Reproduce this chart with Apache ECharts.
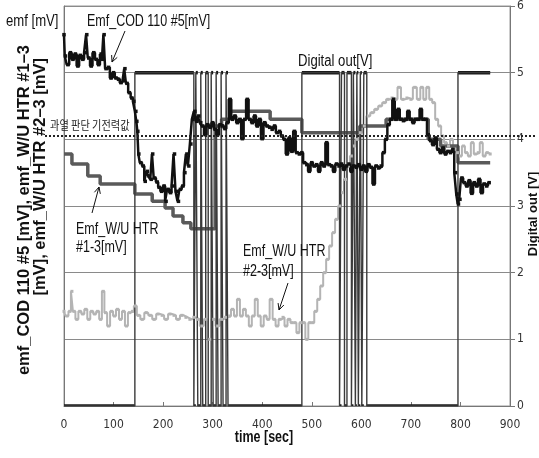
<!DOCTYPE html>
<html>
<head>
<meta charset="utf-8">
<script src="https://cdn.jsdelivr.net/npm/echarts@6/dist/echarts.min.js"></script>
<style>
  html, body { margin: 0; padding: 0; background: #fff; }
  #chart { width: 539px; height: 458px; }
</style>
</head>
<body>
<div id="chart"></div>
<script>
// time [sec] axis and digital out [V] axis
const timeMax = 900
const timeStep = 100
const voltMax = 6
const voltStep = 1

// 과열 판단 기전력값 (threshold, read on the right axis)
const threshold = 4.05

// Digital out [V] : [time, value], value holds until the next point
const digitalOut = [
  [0, 0], [143, 5], [262, 0], [266, 5], [270, 0], [276, 5], [280, 0], [286, 5],
  [291, 0], [297, 5], [301, 0], [307, 5], [311, 0], [317, 5], [321, 0], [327, 5],
  [331, 0], [480, 5], [556, 0], [560, 5], [566, 0], [571, 5], [580, 0], [584, 5],
  [588, 0], [591, 5], [594, 0], [598, 5], [601, 0], [605, 5], [611, 0], [795, 5],
  [860, 5]
]

// Emf_COD 110 #5 [mV]
const codEmf = [
  [0, 5.57], [3, 5.25], [8, 5.12], [13, 5.3], [18, 5.2], [23, 5.28], [28, 5.1], [33, 5.26],
  [38, 5.2], [43, 5.3], [46, 5.57], [50, 5.22], [55, 5.1], [60, 5.3], [65, 5.2], [70, 5.12],
  [75, 5.28], [78, 5.2], [81, 5.57], [85, 5.06], [90, 5.08], [95, 4.92], [100, 5.0], [105, 4.92],
  [110, 4.9], [115, 4.85], [120, 4.88], [123, 5.06], [127, 4.84], [132, 4.7], [137, 4.62], [141, 4.57],
  [145, 4.42], [147, 4.27], [149, 4.12], [151, 3.78], [155, 3.65], [160, 3.6], [164, 3.37], [168, 3.52],
  [172, 3.45], [176, 3.4], [179, 3.78], [183, 3.42], [188, 3.36], [192, 3.28], [197, 3.22], [202, 3.3],
  [206, 3.07], [210, 3.25], [215, 3.2], [219, 3.3], [223, 3.78], [227, 3.22], [231, 3.07], [235, 3.25],
  [240, 3.3], [244, 3.5], [248, 3.78], [252, 3.6], [256, 3.93], [260, 4.3], [264, 4.42], [268, 4.27],
  [272, 4.35], [276, 4.25], [280, 4.2], [285, 4.07], [290, 4.22], [295, 4.18], [300, 4.25], [305, 4.15],
  [310, 4.07], [315, 4.22], [320, 4.2], [325, 4.16], [330, 4.25], [335, 4.6], [340, 4.3], [345, 4.35],
  [350, 4.25], [355, 4.3], [360, 4.01], [365, 4.3], [370, 4.6], [375, 4.3], [380, 4.25], [385, 4.35],
  [390, 4.2], [395, 4.3], [400, 4.01], [405, 4.25], [410, 4.2], [415, 4.18], [420, 4.15], [425, 4.2],
  [430, 4.1], [435, 4.12], [440, 4.05], [445, 4.0], [450, 3.78], [455, 4.02], [460, 3.82], [465, 4.12],
  [470, 3.8], [475, 3.78], [480, 3.8], [485, 3.65], [490, 3.62], [495, 3.52], [500, 3.65], [505, 3.6],
  [510, 3.62], [515, 3.52], [520, 3.65], [525, 3.6], [530, 3.95], [535, 3.62], [540, 3.6], [545, 3.52],
  [550, 3.63], [555, 3.6], [560, 3.63], [565, 3.55], [570, 3.6], [575, 3.63], [580, 3.52], [585, 3.6],
  [590, 3.58], [595, 3.62], [600, 3.55], [605, 3.6], [610, 3.52], [615, 3.62], [620, 3.58], [625, 3.33],
  [630, 3.6], [635, 3.57], [640, 3.6], [645, 3.8], [650, 4.0], [655, 4.22], [660, 4.3], [665, 4.6],
  [670, 4.3], [675, 4.45], [680, 4.3], [685, 4.28], [690, 4.3], [695, 4.42], [700, 4.3], [705, 4.25],
  [710, 4.3], [715, 4.3], [720, 4.45], [725, 4.3], [730, 4.3], [735, 4.07], [740, 3.98], [745, 3.92],
  [750, 4.02], [755, 3.85], [760, 3.8], [765, 3.87], [770, 3.78], [775, 3.82], [780, 3.8], [785, 3.85],
  [790, 3.5], [793, 3.18], [796, 3.03], [799, 3.1], [803, 3.42], [808, 3.35], [813, 3.3], [818, 3.38],
  [823, 3.19], [828, 3.35], [833, 3.3], [838, 3.4], [843, 3.2], [848, 3.33], [853, 3.3], [858, 3.35]
]

// Emf_W/U HTR #1-3 [mV]
const htr13Emf = [
  [0, 3.78], [16, 3.63], [48, 3.45], [73, 3.33], [143, 3.18], [178, 3.07], [204, 2.97],
  [220, 2.85], [240, 2.75], [256, 2.66], [305, 4.2], [318, 4.3], [335, 4.42], [416, 4.3],
  [480, 4.1], [597, 4.2], [650, 4.3], [735, 4.0], [760, 3.9], [795, 3.65], [860, 3.65]
]

// Emf_W/U HTR #2-3 [mV]
const htr23Emf = [
  [0, 1.42], [6, 1.35], [12, 1.42], [16, 1.72], [20, 1.42], [26, 1.3], [32, 1.42], [38, 1.38],
  [44, 1.45], [50, 1.3], [56, 1.42], [62, 1.38], [68, 1.42], [74, 1.3], [79, 1.72], [84, 1.4],
  [90, 1.2], [96, 1.42], [102, 1.35], [108, 1.45], [114, 1.3], [120, 1.42], [126, 1.2], [132, 1.4],
  [138, 1.42], [144, 1.5], [150, 1.36], [158, 1.3], [166, 1.4], [174, 1.36], [182, 1.3], [190, 1.38],
  [198, 1.36], [206, 1.3], [214, 1.38], [222, 1.36], [230, 1.3], [238, 1.36], [246, 1.33], [254, 1.3],
  [262, 1.33], [270, 1.3], [278, 1.2], [286, 1.3], [294, 1.0], [302, 1.3], [310, 1.2], [318, 1.3],
  [326, 1.33], [334, 1.35], [340, 1.45], [346, 1.35], [352, 1.6], [358, 1.35], [364, 1.45], [370, 1.35],
  [376, 1.2], [382, 1.35], [388, 1.6], [394, 1.35], [400, 1.2], [406, 1.35], [412, 1.3], [418, 1.6],
  [424, 1.3], [430, 1.2], [436, 1.3], [442, 1.33], [448, 1.2], [454, 1.3], [460, 1.25], [466, 1.25],
  [472, 1.1], [478, 1.25], [484, 1.25], [490, 1.0], [496, 1.25], [502, 1.25], [508, 1.42], [514, 1.6],
  [520, 1.8], [526, 2.0], [532, 2.2], [538, 2.4], [544, 2.6], [550, 2.8], [556, 3.0], [562, 3.2],
  [568, 3.4], [574, 3.6], [580, 3.75], [586, 3.9], [592, 4.0], [598, 4.1], [606, 4.2], [614, 4.35],
  [622, 4.4], [630, 4.45], [638, 4.5], [646, 4.55], [654, 4.6], [662, 4.62], [670, 4.6], [676, 4.78],
  [684, 4.6], [692, 4.62], [700, 4.6], [708, 4.78], [716, 4.6], [722, 4.78], [728, 4.6], [734, 4.78],
  [740, 4.6], [746, 4.55], [752, 4.3], [758, 4.2], [764, 4.05], [770, 3.95], [776, 3.9], [782, 4.0],
  [788, 3.85], [794, 3.8], [800, 3.75], [806, 3.9], [812, 3.8], [818, 3.75], [824, 3.95], [830, 3.78],
  [836, 3.8], [842, 3.95], [848, 3.75], [854, 3.8], [860, 3.78]
]

const narrow = "'DejaVu Sans Condensed', 'Liberation Sans', sans-serif"
const sans = "'Liberation Sans', Arial, sans-serif"

const chart = echarts.init(document.getElementById('chart'))

// 화살표 (line + open head)
const arrow = (x1, y1, x2, y2) => {
  const a = Math.atan2(y2 - y1, x2 - x1)
  const h = 7, w = 0.45
  return {
    type: 'group', silent: true,
    children: [
      { type: 'line', shape: { x1, y1, x2, y2 }, style: { stroke: '#111', lineWidth: 1 } },
      {
        type: 'polyline',
        shape: { points: [
          [x2 - h * Math.cos(a - w), y2 - h * Math.sin(a - w)],
          [x2, y2],
          [x2 - h * Math.cos(a + w), y2 - h * Math.sin(a + w)]
        ] },
        style: { stroke: '#111', lineWidth: 1, fill: null }
      }
    ]
  }
}

// 텍스트 (narrowed with scaleX like the original lettering)
const label = (text, x, y, style, extra) => Object.assign({
  type: 'text', x, y, silent: true, z: 100, scaleX: 0.78,
  style: Object.assign({
    text, fill: '#111', fontSize: 16, fontFamily: sans, verticalAlign: 'middle'
  }, style || {})
}, extra || {})

// horizontal pieces of the digital out signal (bold), drawn from the same data
const digitalLevels = (params, api) => {
  const i = params.dataIndex
  if (i >= digitalOut.length - 1) return null
  const p0 = api.coord([digitalOut[i][0], digitalOut[i][1]])
  const p1 = api.coord([digitalOut[i + 1][0], digitalOut[i][1]])
  return {
    type: 'line',
    shape: { x1: p0[0], y1: p0[1], x2: p1[0], y2: p1[1] },
    style: { stroke: '#1a1a1a', lineWidth: 3.5 }
  }
}

chart.setOption({
  animation: false,
  grid: { left: 64, right: 29, top: 5, bottom: 52, show: true, borderColor: '#999', borderWidth: 1 },
  xAxis: {
    type: 'value', min: 0, max: timeMax, interval: timeStep,
    axisLine: { lineStyle: { color: '#777' } },
    axisTick: { inside: true, length: 4, lineStyle: { color: '#777' } },
    axisLabel: { color: '#333', fontSize: 12, fontFamily: narrow, margin: 13 },
    splitLine: { show: false }
  },
  yAxis: [
    {
      type: 'value', min: 0, max: voltMax, position: 'left',
      axisLine: { show: true, lineStyle: { color: '#777' } },
      axisTick: { show: false }, axisLabel: { show: false }, splitLine: { show: false }
    },
    {
      type: 'value', min: 0, max: voltMax, interval: voltStep, position: 'right',
      axisLine: { show: true, lineStyle: { color: '#777' } },
      axisTick: { show: true, length: 5, lineStyle: { color: '#777' } },
      axisLabel: { color: '#333', fontSize: 12, fontFamily: narrow, margin: 7 },
      splitLine: { show: true, lineStyle: { color: '#8a8a8a', width: 1 } }
    }
  ],
  series: [
    {
      name: 'Emf_W/U HTR #2-3', type: 'line', yAxisIndex: 1, step: 'middle', data: htr23Emf,
      symbol: 'rect', symbolSize: 3, showSymbol: true,
      lineStyle: { color: '#b4b4b4', width: 2 }, itemStyle: { color: '#b4b4b4' }
    },
    {
      name: 'Emf_W/U HTR #1-3', type: 'line', yAxisIndex: 1, step: 'end', data: htr13Emf,
      symbol: 'none', lineStyle: { color: '#5a5a5a', width: 3.5 }
    },
    {
      name: 'Digital out', type: 'line', yAxisIndex: 1, step: 'end', data: digitalOut,
      symbol: 'none', lineStyle: { color: '#3a3a3a', width: 1.4 }
    },
    {
      name: 'Digital out level', type: 'custom', yAxisIndex: 1, data: digitalOut,
      renderItem: digitalLevels, clip: true
    },
    {
      name: 'Emf_COD 110 #5', type: 'line', yAxisIndex: 1, step: 'middle', data: codEmf,
      symbol: 'rect', symbolSize: 3.5, showSymbol: true,
      lineStyle: { color: '#111', width: 2.5 }, itemStyle: { color: '#111' }
    }
  ]
})

const yTh = chart.convertToPixel({ yAxisIndex: 1 }, threshold)
const rot = { rotation: Math.PI / 2, scaleX: 1 }

chart.setOption({
  graphic: [
    // 과열 판단 기전력값 dotted line (extends past the plot)
    { type: 'line', silent: true, z: 90, shape: { x1: 45, y1: yTh, x2: 537, y2: yTh },
      style: { stroke: '#222', lineWidth: 2, lineDash: [2, 2] } },
    label('과열 판단 기전력값', 50, yTh - 11,
      { fontSize: 12, fontFamily: '"Noto Sans CJK KR", sans-serif', fill: '#222' }, { scaleX: 0.85 }),

    label('emf [mV]', 6, 22, {}, { scaleX: 0.82 }),
    label('Emf_COD 110 #5[mV]', 87, 22),
    arrow(125, 31, 112, 62),

    label('Digital out[V]', 298, 62, {}, { scaleX: 0.82 }),

    label('Emf_W/U HTR', 76, 230),
    label('#1-3[mV]', 76, 248),
    arrow(92, 213, 99, 187),

    label('Emf_W/U HTR', 243, 252),
    label('#2-3[mV]', 243, 272),
    arrow(288, 283, 279, 310),

    label('time [sec]', 264, 438, { fontSize: 16, fontWeight: 'bold', align: 'center' }),

    // axis names
    label('Digital out [V]', 533, 214,
      { fontSize: 13, fontWeight: 'bold', align: 'center' }, rot),
    label('emf_COD 110 #5 [mV], emf_W/U HTR #1\u20133', 24, 45,
      { fontSize: 16.5, fontWeight: 'bold', align: 'right' }, rot),
    label('[mV], emf_W/U HTR #2\u20133 [mV]', 40, 58,
      { fontSize: 16.5, fontWeight: 'bold', align: 'right' }, rot)
  ]
})
</script>
</body>
</html>
